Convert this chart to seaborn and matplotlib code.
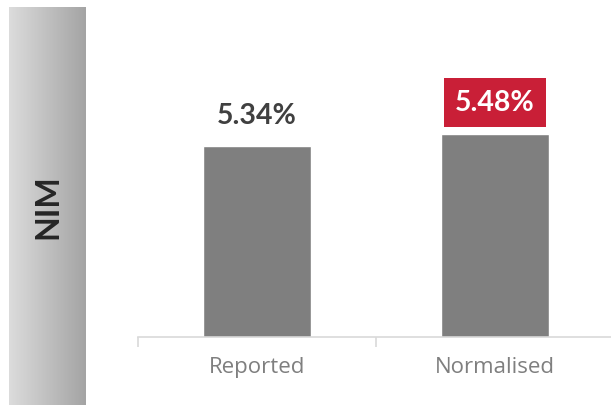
import numpy as np
import pandas as pd
import matplotlib
matplotlib.use("Agg")
import matplotlib.pyplot as plt
import seaborn as sns
from matplotlib.colors import LinearSegmentedColormap

categories = ["Reported", "Normalised"]
values = [5.34, 5.48]
value_labels = ["5.34%", "5.48%"]
panel_title = "NIM"

sns.set_theme(style="white")
plt.rcParams["font.family"] = ["Open Sans", "DejaVu Sans"]
BOLD = ["Lato", "DejaVu Sans"]

W, H = 611, 406
fig = plt.figure(figsize=(W / 100, H / 100), dpi=100)

# gradient side panel
pax = fig.add_axes([9 / W, 0, 77 / W, (H - 8) / H])
cmap = LinearSegmentedColormap.from_list("g", ["#dcdcdc", "#a4a4a4"])
pax.imshow(np.linspace(0, 1, 256)[None, :], aspect="auto", cmap=cmap,
           extent=[0, 1, 0, 1])
pax.set_axis_off()
fig.text(48 / W, 1 - 207 / H, panel_title, rotation=90, ha="center", va="center",
         fontsize=23, fontweight="bold", color="#262626", family=BOLD)

ax = fig.add_axes([138 / W, (H - 338) / H, 476 / W, 330 / H])
df = pd.DataFrame({"cat": categories, "val": values})
sns.barplot(data=df, x="cat", y="val", color="#7f7f7f", saturation=1,
            width=0.455, ax=ax)
ax.set_ylim(3, 7.04)
ax.set_xlim(-0.5, 1.5)
for s in ["top", "right", "left"]:
    ax.spines[s].set_visible(False)
ax.spines["bottom"].set_color("#d9d9d9")
ax.spines["bottom"].set_linewidth(1.2)
ax.set_yticks([])
ax.set_xlabel("")
ax.set_ylabel("")
ax.tick_params(axis="x", which="major", length=0, pad=14, labelsize=16,
               labelcolor="#7f7f7f")
ax.set_xticks([-0.5, 0.5, 1.5], minor=True)
ax.tick_params(axis="x", which="minor", length=7, width=1.2, color="#d9d9d9",
               bottom=True)

for i, (v, lab) in enumerate(zip(values, value_labels)):
    if i == 0:
        ax.annotate(lab, (i, v), xytext=(0, 22), textcoords="offset points",
                    ha="center", va="center", fontsize=20.5, fontweight="bold",
                    color="#404040", family=BOLD)
    else:
        ax.annotate(lab, (i, v), xytext=(0, 23), textcoords="offset points",
                    ha="center", va="center", fontsize=20.5, fontweight="bold",
                    color="white", family=BOLD,
                    bbox=dict(boxstyle="square,pad=0.4", fc="#c91f37", ec="none"))

fig.savefig("out.png", dpi=100)
